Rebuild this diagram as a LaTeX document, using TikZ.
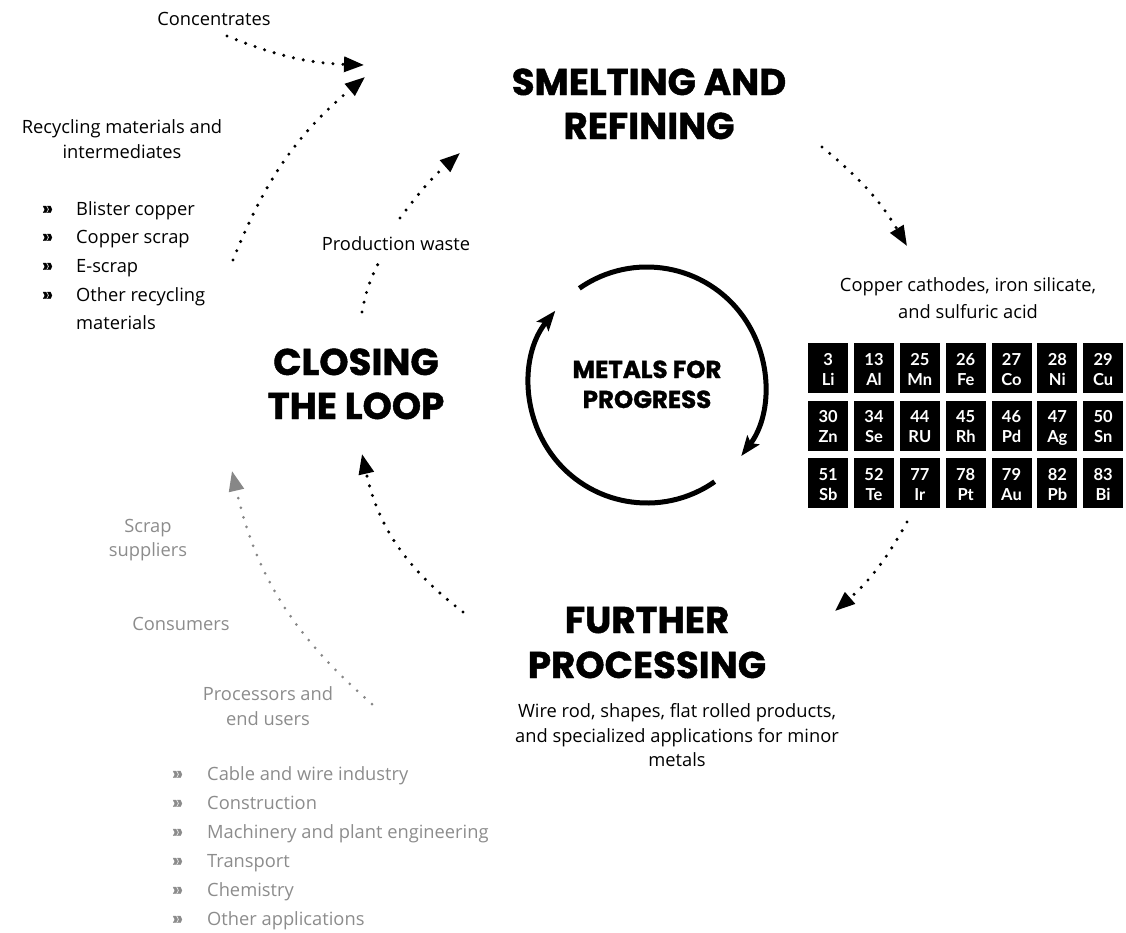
\documentclass[tikz,border=0pt]{standalone}
\usepackage{fontspec}
\setmainfont{Open Sans}
\newfontfamily\titlefont{Poppins}[BoldFeatures={FakeBold=1.2}]
\newfontfamily\tilefont{Lato}
\usetikzlibrary{arrows.meta,calc}
\definecolor{txtgray}{RGB}{140,140,140}
\definecolor{arrgray}{RGB}{135,135,135}
\begin{document}
\begin{tikzpicture}[x=1pt,y=-1pt,
  body/.style={font=\fontsize{18.3}{24}\selectfont, inner sep=0pt, anchor=base},
  bodyw/.style={body, anchor=base west},
  gbody/.style={body, text=txtgray},
  gbodyw/.style={bodyw, text=txtgray},
  bul/.style={bodyw, font=\titlefont\bfseries\fontsize{19}{24}\selectfont},
  gbul/.style={bul, text=txtgray},
  title/.style={font=\titlefont\bfseries\fontsize{37.2}{44}\selectfont, inner sep=0pt, anchor=base},
  ctitle/.style={font=\titlefont\bfseries\fontsize{24.5}{30}\selectfont, inner sep=0pt, anchor=base},
  tile/.style={fill=black, minimum width=40pt, minimum height=50pt, inner sep=0pt, anchor=north west},
  tiletxt/.style={text=white, font=\tilefont\bfseries\fontsize{16.5}{20}\selectfont, inner sep=0pt, anchor=base},
  dotline/.style={line width=3.4pt, dash pattern=on 0pt off 10pt, line cap=round},
  gdotline/.style={line width=3pt, dash pattern=on 0pt off 10pt, line cap=round},
  dotarrow/.style={dotline, -{Triangle[length=20pt,width=15pt]}},
  gdotarrow/.style={gdotline, -{Triangle[length=20pt,width=15pt]}},
  loop/.style={line width=5pt, -{Stealth[length=20pt,width=15pt,inset=4pt]}}
]
\useasboundingbox (0,0) rectangle (1126,932);

% ---- left top texts
\node[body] (conc) at (214,25) {Concentrates};
\node[body] (rec1) at (122,133) {Recycling materials and};
\node[body] (rec2) at (122,158) {intermediates};
\node[bul] (rb1) at (42,215) {»};
\node[bodyw] (rt1) at (76,215) {Blister copper};
\node[bul] (rb2) at (42,243) {»};
\node[bodyw] (rt2) at (76,243) {Copper scrap};
\node[bul] (rb3) at (42,272) {»};
\node[bodyw] (rt3) at (76,272) {E-scrap};
\node[bul] (rb4) at (42,301) {»};
\node[bodyw] (rt4) at (76,301) {Other recycling};
\node[bodyw] (rt5) at (76,329) {materials};
\node[body] (pw) at (396,250) {Production waste};

% ---- titles
\node[title] (sm1) at (649,95) {SMELTING AND};
\node[title] (sm2) at (649,139) {REFINING};
\node[title] (cl1) at (356,375) {CLOSING};
\node[title] (cl2) at (356,419) {THE LOOP};
\node[title] (fp1) at (647,633) {FURTHER};
\node[title] (fp2) at (647,678) {PROCESSING};
\node[ctitle] (met1) at (647,378) {METALS FOR};
\node[ctitle] (met2) at (647,408) {PROGRESS};

% ---- right texts
\node[body] (cc1) at (968,291) {Copper cathodes, iron silicate,};
\node[body] (cc2) at (968,318) {and sulfuric acid};
\node[body] (wr1) at (677,717) {Wire rod, shapes, flat rolled products,};
\node[body] (wr2) at (677,742) {and specialized applications for minor};
\node[body] (wr3) at (677,766) {metals};

% ---- gray texts
\node[gbody] (sc1) at (148,532) {Scrap};
\node[gbody] (sc2) at (148,556) {suppliers};
\node[gbody] (cons) at (181,630) {Consumers};
\node[gbody] (pr1) at (268,700) {Processors and};
\node[gbody] (pr2) at (268,725) {end users};
\foreach \t [count=\k from 0] in {Cable and wire industry,Construction,Machinery and plant engineering,Transport,Chemistry,Other applications}{
  \node[gbul] (gb\k) at (172,780+29*\k) {»};
  \node[gbodyw] (gt\k) at (207,780+29*\k) {\t};
}

% ---- element tiles
\foreach \n/\s [count=\i from 0] in {3/Li,13/Al,25/Mn,26/Fe,27/Co,28/Ni,29/Cu,30/Zn,34/Se,44/RU,45/Rh,46/Pd,47/Ag,50/Sn,51/Sb,52/Te,77/Ir,78/Pt,79/Au,82/Pb,83/Bi}{
  \pgfmathtruncatemacro\c{mod(\i,7)}
  \pgfmathtruncatemacro\r{div(\i,7)}
  \node[tile] (tile\i) at (808+45.83*\c, 343+57.5*\r) {};
  \node[tiletxt] (tn\i) at ($(tile\i.north)+(0,22)$) {\n};
  \node[tiletxt] (ts\i) at ($(tile\i.north)+(0,42)$) {\s};
}

% ---- central loop
\coordinate (mc) at (647,385);
\draw[loop] ($(mc)+(-125:118)$) arc[start angle=-125, end angle=37, radius=118] coordinate (la);
\draw[loop] ($(mc)+(55:118)$) arc[start angle=55, end angle=219, radius=118] coordinate (lb);

% ---- connector coordinates
\coordinate (a1s) at (227,36);  \coordinate (a1e) at (364,65);
\coordinate (a2s) at (233,260); \coordinate (a2e) at (365,77);
\coordinate (a3s) at (362,312); \coordinate (a3m) at (379,262);
\coordinate (a3n) at (400,218); \coordinate (a3e) at (460,153);
\coordinate (a4s) at (822,147); \coordinate (a4e) at (907,246);
\coordinate (a5s) at (907,522); \coordinate (a5e) at (835,611);
\coordinate (a6s) at (463,612); \coordinate (a6e) at (362,454);
\coordinate (a7s) at (372,704); \coordinate (a7e) at (232,471);

\draw[dotarrow] (a1s) to[bend right=10] (a1e);
\draw[dotarrow] (a2s) to[bend left=14] (a2e);
\draw[dotline] (a3s) to[bend left=8] (a3m);
\draw[dotarrow] (a3n) to[bend left=6] (a3e);
\draw[dotarrow] (a4s) to[bend left=10] (a4e);
\draw[dotarrow] (a5s) to[bend left=10] (a5e);
\draw[dotarrow] (a6s) to[bend left=20] (a6e);
\draw[gdotarrow, color=arrgray] (a7s) to[bend left=18] (a7e);
\end{tikzpicture}
\end{document}
